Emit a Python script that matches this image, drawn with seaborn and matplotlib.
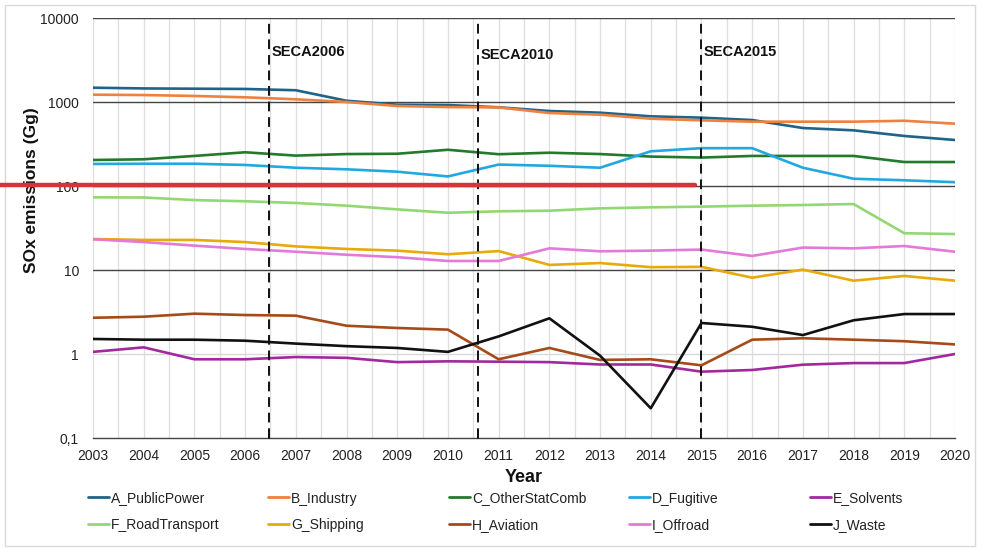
import numpy as np
import pandas as pd
import matplotlib
matplotlib.use("Agg")
import matplotlib.pyplot as plt
import matplotlib.ticker as mticker
from matplotlib.lines import Line2D
from matplotlib.patches import Rectangle
import seaborn as sns

years = list(range(2003, 2021))

A_PublicPower = [1480, 1450, 1440, 1430, 1380, 1035, 929, 920, 865, 781, 746, 675, 651, 610, 490, 460, 394, 353]
B_Industry = [1222, 1210, 1180, 1137, 1077, 1000, 896, 870, 862, 740, 706, 633, 605, 583, 583, 583, 598, 552]
C_OtherStatComb = [204, 208, 228, 252, 230, 240, 242, 270, 239, 249, 240, 224, 218, 228, 228, 228, 193, 193]
D_Fugitive = [183, 184, 184, 178, 165, 158, 148, 130, 180, 174, 165, 259, 282, 282, 165, 122, 117, 111]
E_Solvents = [1.06, 1.2, 0.865, 0.865, 0.92, 0.9, 0.80, 0.818, 0.81, 0.80, 0.75, 0.75, 0.616, 0.645, 0.746, 0.78, 0.78, 1.0]
F_RoadTransport = [73.3, 73, 68, 65.8, 62.8, 58.3, 52.7, 48, 50, 50.8, 54.2, 55.7, 56.8, 58.3, 59.4, 61, 27.4, 26.8]
G_Shipping = [23.4, 22.8, 22.8, 21.5, 19.1, 17.8, 17, 15.4, 16.8, 11.5, 12.1, 10.8, 10.9, 8.1, 10.1, 7.46, 8.5, 7.46]
H_Aviation = [2.7, 2.78, 3.02, 2.91, 2.86, 2.17, 2.04, 1.95, 0.865, 1.18, 0.85, 0.865, 0.733, 1.48, 1.54, 1.48, 1.42, 1.30]
I_Offroad = [23.2, 21.5, 19.5, 17.8, 16.5, 15.2, 14.2, 12.8, 12.8, 18.1, 16.7, 17.0, 17.5, 14.7, 18.5, 18.1, 19.3, 16.5]
J_Waste = [1.51, 1.48, 1.48, 1.44, 1.33, 1.24, 1.18, 1.06, 1.62, 2.66, 0.955, 0.226, 2.34, 2.11, 1.68, 2.52, 2.99, 2.99]

sector_names = ["A_PublicPower", "B_Industry", "C_OtherStatComb", "D_Fugitive", "E_Solvents",
                "F_RoadTransport", "G_Shipping", "H_Aviation", "I_Offroad", "J_Waste"]
sector_values = [A_PublicPower, B_Industry, C_OtherStatComb, D_Fugitive, E_Solvents,
                 F_RoadTransport, G_Shipping, H_Aviation, I_Offroad, J_Waste]
sector_colors = ["#1f6388", "#f0803c", "#237a2c", "#22a8e0", "#a2289e",
                 "#92d872", "#e8aa0a", "#a54a18", "#e47ad8", "#111111"]

seca_years = [2006.47, 2010.6, 2015.0]
seca_labels = ["SECA2006", "SECA2010", "SECA2015"]
seca_label_y = [3940, 3630, 3940]

y_ticks = [0.1, 1, 10, 100, 1000, 10000]
y_tick_labels = ["0,1", "1", "10", "100", "1000", "10000"]

df = pd.DataFrame({
    "Year": np.tile(years, len(sector_names)),
    "Sector": np.repeat(sector_names, len(years)),
    "SOx": np.concatenate(sector_values),
})

sns.set_theme(style="white")
plt.rcParams["font.family"] = ["Liberation Sans", "DejaVu Sans"]

W, H = 986, 549
fig = plt.figure(figsize=(W / 100, H / 100), dpi=100)
ax = fig.add_axes([93 / W, 1 - 438 / H, (955 - 93) / W, (438 - 18) / H])

# light vertical grid every half year
for gx in np.arange(2003, 2020.01, 0.5):
    ax.axvline(gx, color="#dedede", lw=0.9, zorder=0)
# decade grid lines
for gy, col in zip([1, 10, 100, 1000, 10000], ["#d9d9d9", "#444444", "#444444", "#444444", "#444444"]):
    ax.axhline(gy, color=col, lw=1.0, zorder=0.5)

sns.lineplot(data=df, x="Year", y="SOx", hue="Sector", palette=sector_colors,
             hue_order=sector_names, linewidth=1.9, ax=ax, legend=False, zorder=3)

ax.set_yscale("log")
ax.set_ylim(0.1, 10000)
ax.set_xlim(2003, 2020)
ax.set_yticks(y_ticks)
ax.set_yticklabels(y_tick_labels)
ax.yaxis.set_minor_locator(mticker.NullLocator())
ax.set_xticks(years)
ax.set_xticklabels([str(y) for y in years])
ax.tick_params(axis="both", labelsize=10, colors="#222222", length=0, pad=8)
ax.tick_params(axis="y", pad=10)

for s in ["left", "right", "top"]:
    ax.spines[s].set_visible(False)
ax.spines["bottom"].set_color("#444444")
ax.spines["bottom"].set_linewidth(1.0)

ax.set_xlabel("Year", fontsize=13, fontweight="bold", color="#111111")
ax.xaxis.set_label_coords((524 - 93) / 862, -(477 - 438) / 420)
ax.xaxis.label.set_va("center")
ax.set_ylabel("SOx emissions (Gg)", fontsize=12.5, fontweight="bold", color="#111111")
ax.yaxis.set_label_coords((32 - 93) / 862, (438 - 190) / 420)
ax.yaxis.label.set_va("center")

for xv, lab, ly in zip(seca_years, seca_labels, seca_label_y):
    ax.axvline(xv, color="#111111", lw=1.4, ls=(0, (5, 3)), zorder=4)
    ax.plot([xv, xv], [0.1, 0.125], color="#111111", lw=1.4, zorder=4, clip_on=False)
    ax.text(xv + 0.05, ly, lab, fontsize=10.5, fontweight="bold", color="#111111",
            va="center", ha="left", zorder=5)

# legend: five columns, two rows, row-major order
col_x = [88, 268, 449, 629, 810]
row_y = [497, 524]
for i, (name, color) in enumerate(zip(sector_names, sector_colors)):
    cx = col_x[i % 5]
    cy = 1 - row_y[i // 5] / H
    fig.add_artist(Line2D([cx / W, (cx + 21) / W], [cy, cy], transform=fig.transFigure,
                          color=color, lw=2))
    fig.text((cx + 23) / W, cy, name, fontsize=10, color="#222222",
             va="center_baseline", ha="left")

# outer frame and red marker line
fig.add_artist(Rectangle((5 / W, 1 - 546 / H), 970 / W, 541 / H,
                         transform=fig.transFigure, fill=False, edgecolor="#d9d9d9", lw=1.0))
fig.add_artist(Line2D([0, 695 / W], [1 - 185 / H, 1 - 185 / H],
                      transform=fig.transFigure, color="#d43535", lw=3.2, zorder=10))

fig.savefig("out.png", dpi=100)
